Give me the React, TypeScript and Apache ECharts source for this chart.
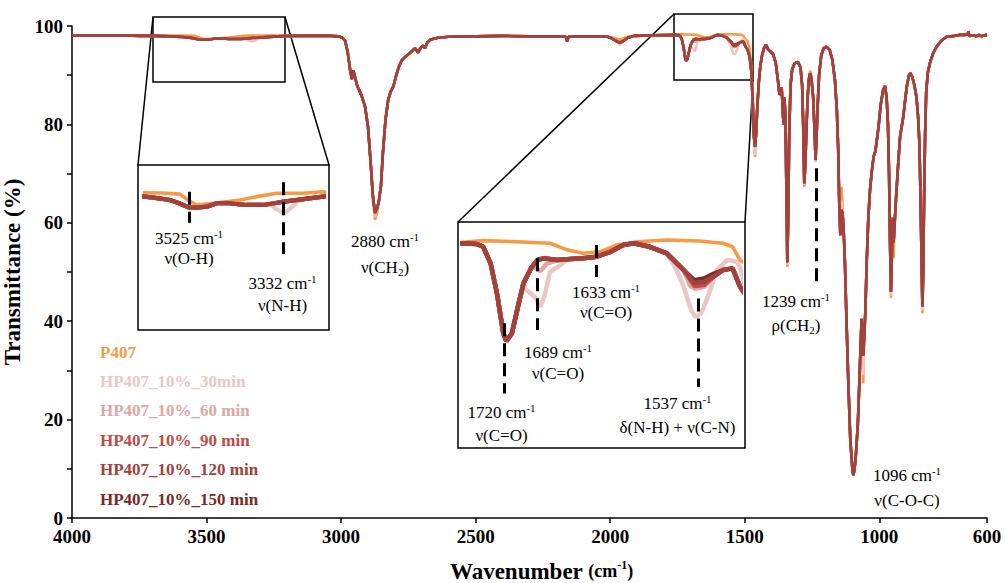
import React, { useEffect, useRef } from "react";
import * as echarts from "echarts";

type Pt = [number, number];

const FONT = "Liberation Serif";

const SERIES_NAMES = [
  "P407",
  "HP407_10%_30min",
  "HP407_10%_60 min",
  "HP407_10%_90 min",
  "HP407_10%_120 min",
  "HP407_10%_150 min",
];
const SERIES_COLORS = ["#F79A45", "#EBC6C6", "#E0A6A5", "#C24A47", "#A3413B", "#7A2A27"];
const DRAW_ORDER = [0, 1, 2, 5, 3, 4];

const X_TICKS = [4000, 3500, 3000, 2500, 2000, 1500, 1000, 600];
const Y_LABEL_STEP = 20;

// dominant curve (120 min): [wavenumber, transmittance]
const MAIN: Pt[] = [
  [4000, 98.1], [3900, 98.1], [3800, 98.1], [3750, 98.0], [3700, 98.0], [3660, 97.95], [3615, 97.84], [3590, 97.75],
  [3564, 97.64], [3545, 97.45], [3526, 97.21], [3505, 97.2], [3488, 97.25], [3468, 97.45], [3441, 97.45], [3420, 97.38],
  [3407, 97.35], [3372, 97.35], [3350, 97.45], [3331, 97.55], [3310, 97.62], [3290, 97.69], [3250, 97.84], [3220, 97.95],
  [3180, 98.0], [3100, 98.05], [3040, 98.0], [3010, 97.9], [2995, 97.6], [2985, 97.0], [2975, 94.5], [2965, 90.5],
  [2960, 89.2], [2955, 91.0], [2950, 90.0], [2940, 87.8], [2925, 86.0], [2911, 83.6], [2900, 79.5], [2890, 72.0],
  [2882, 65.5], [2874, 62.0], [2866, 63.0], [2860, 64.3], [2852, 67.5], [2845, 74.0], [2835, 81.0], [2825, 85.0],
  [2815, 86.8], [2806, 87.7], [2795, 90.0], [2785, 91.8], [2775, 93.0], [2760, 93.8], [2744, 94.5], [2725, 95.5],
  [2714, 94.6], [2704, 95.6], [2696, 96.0], [2688, 95.5], [2680, 96.6], [2670, 97.2], [2640, 97.6], [2600, 97.8],
  [2500, 97.9], [2400, 98.0], [2300, 97.9], [2200, 97.9], [2165, 97.8], [2160, 96.9], [2155, 97.8], [2100, 97.9],
  [2050, 97.9], [2010, 97.8], [1995, 97.5], [1980, 97.0], [1964, 96.6], [1950, 97.0], [1935, 97.6], [1910, 98.0],
  [1850, 98.1], [1800, 98.15], [1759, 98.19], [1746, 98.15], [1740, 98.0], [1733, 97.11], [1727, 95.5], [1721, 93.35],
  [1718, 92.94], [1713, 93.35], [1708, 94.6], [1702, 96.04], [1695, 96.84], [1689, 97.29], [1683, 97.38], [1670, 97.29],
  [1661, 97.33], [1646, 97.38], [1633, 97.47], [1620, 97.73], [1608, 98.1], [1598, 98.19], [1583, 98.0], [1567, 97.65],
  [1551, 96.75], [1541, 96.04], [1532, 96.12], [1523, 96.39], [1514, 96.75], [1505, 96.84], [1498, 95.86], [1490, 95.2],
  [1482, 93.8], [1476, 91.0], [1470, 84.0], [1466, 77.5], [1462, 75.5], [1458, 78.0], [1454, 83.0], [1448, 88.5],
  [1442, 92.0], [1436, 94.0], [1428, 95.6], [1421, 96.2], [1413, 95.2], [1405, 94.8], [1395, 94.3], [1385, 92.5],
  [1377, 89.0], [1371, 86.0], [1367, 86.5], [1363, 87.5], [1359, 83.0], [1356, 80.0], [1353, 85.5], [1349, 82.0],
  [1345, 65.0], [1342, 52.0], [1339, 60.0], [1335, 78.0], [1330, 88.0], [1324, 91.2], [1315, 92.4], [1303, 92.7],
  [1293, 91.6], [1287, 88.0], [1283, 80.0], [1279, 68.0], [1275, 72.0], [1271, 79.0], [1266, 86.0], [1261, 89.5],
  [1257, 90.4], [1252, 89.0], [1246, 85.6], [1241, 79.0], [1237, 72.8], [1233, 78.0], [1229, 84.0], [1224, 90.0],
  [1216, 94.0], [1207, 95.5], [1197, 95.8], [1185, 95.2], [1175, 93.2], [1165, 89.0], [1158, 83.0], [1153, 75.0],
  [1149, 64.0], [1145, 57.5], [1141, 62.6], [1137, 62.0], [1133, 59.0], [1128, 52.0], [1122, 40.0], [1115, 27.0],
  [1108, 16.0], [1101, 10.5], [1097, 8.7], [1093, 9.5], [1087, 13.0], [1080, 19.0], [1074, 28.0], [1069, 36.0],
  [1066, 40.5], [1063, 37.0], [1060, 33.0], [1056, 37.0], [1052, 42.0], [1047, 52.0], [1041, 61.0], [1035, 66.5],
  [1028, 70.5], [1021, 73.5], [1015, 74.5], [1010, 76.5], [1003, 79.5], [995, 84.0], [986, 87.0], [979, 87.8],
  [973, 85.5], [968, 80.0], [964, 70.0], [960, 55.0], [957, 46.0], [954, 52.0], [951, 61.0], [949, 58.0],
  [947, 56.0], [944, 59.0], [938, 65.0], [930, 72.0], [923, 77.5], [917, 79.5], [911, 81.6], [904, 85.0],
  [898, 87.7], [890, 90.0], [885, 90.4], [878, 89.7], [870, 88.0], [862, 85.5], [856, 81.5], [851, 76.0],
  [847, 65.0], [843, 52.0], [840, 43.0], [837, 50.0], [834, 64.0], [830, 78.0], [826, 86.5], [820, 90.5],
  [812, 92.5], [800, 94.5], [787, 95.8], [770, 97.0], [750, 97.8], [720, 98.0], [700, 98.2], [680, 98.2],
  [672, 98.3], [669, 98.9], [666, 98.0], [650, 98.1], [640, 97.9], [630, 98.2], [620, 97.9], [610, 98.1], [600, 98.2],
];

// segments where each other sample departs from the dominant curve
const P407_SEGMENTS: Pt[][] = [
  [[3660, 98.05], [3615, 98.07], [3580, 98.05], [3543, 97.99], [3525, 97.6], [3509, 97.35], [3476, 97.45], [3445, 97.55],
   [3420, 97.64], [3386, 97.84], [3345, 98.04], [3291, 98.04], [3250, 98.13]],
  [[2882, 64.5], [2874, 60.6], [2866, 62.0]],
  [[1995, 97.7], [1964, 97.2], [1935, 97.8]],
  [[1759, 98.24], [1740, 98.33], [1708, 98.27], [1677, 98.19], [1662, 97.86], [1646, 97.65], [1630, 97.73], [1614, 98.1],
   [1595, 98.27], [1567, 98.36], [1536, 98.31], [1514, 98.19], [1505, 98.0], [1498, 97.29], [1490, 97.0], [1482, 95.5], [1476, 92.0]],
  [[1462, 73.4]],
  [[1342, 51.0]],
  [[1279, 67.3]],
  [[1257, 90.9], [1252, 89.8]],
  [[1237, 73.3]],
  [[1141, 67.3], [1137, 64.0]],
  [[1060, 27.4]],
  [[957, 44.7]],
  [[947, 52.8]],
  [[840, 41.6]],
];
const MIN30_SEGMENTS: Pt[][] = [
  [[3360, 97.4], [3345, 97.1], [3330, 96.85], [3315, 97.2], [3300, 97.6]],
  [[2874, 61.2]],
  [[1964, 96.1]],
  [[1700, 95.7], [1695, 95.5], [1690, 95.2], [1686, 94.78], [1682, 95.4], [1677, 96.66], [1667, 97.02]],
  [[1560, 97.0], [1552, 96.0], [1548, 95.32], [1544, 94.6], [1540, 94.24], [1535, 94.4], [1532, 94.78], [1526, 95.68],
   [1520, 96.75], [1510, 97.29], [1501, 97.2], [1498, 96.9]],
  [[1462, 73.8]],
  [[1342, 51.5]],
  [[1279, 67.8]],
  [[1237, 72.3]],
  [[1141, 64.5]],
  [[1060, 29.0]],
  [[957, 45.2]],
  [[840, 42.2]],
];
const MIN60_SEGMENTS: Pt[][] = [
  [[1692, 96.9], [1686, 96.7], [1680, 97.1]],
  [[1545, 95.9], [1540, 95.75], [1532, 95.85]],
  [[2874, 61.6]],
  [[1342, 51.8]],
  [[1237, 72.5]],
];
const MIN90_SEGMENTS: Pt[][] = [[[1541, 95.9], [1532, 95.95]]];
const MIN120_SEGMENTS: Pt[][] = [];
const MIN150_SEGMENTS: Pt[][] = [[[1541, 96.2], [1532, 96.3], [1523, 96.55]]];

const ALL_SEGMENTS = [P407_SEGMENTS, MIN30_SEGMENTS, MIN60_SEGMENTS, MIN90_SEGMENTS, MIN120_SEGMENTS, MIN150_SEGMENTS];

// marker lines: [wavenumber, T from, T to]
const MAIN_MARKERS: Pt[][] = [[[1236, 71.1], [1236, 48.0]]];
const INSET1_MARKERS: Pt[][] = [[[3525, 98.13], [3525, 96.31]], [[3332, 98.68], [3332, 94.47]]];
const INSET2_MARKERS: Pt[][] = [
  [[1720, 93.89], [1720, 90.13]],
  [[1689, 97.38], [1689, 93.53]],
  [[1633, 98.09], [1633, 96.38]],
  [[1537, 95.23], [1537, 90.48]],
];

// annotations: [value text, assignment, cx, cy1, cy2]
const ANNOTATIONS: [string, string, number, number, number][] = [
  ["3525", "{n|ν(O-H)}", 189, 238, 258],
  ["3332", "{n|ν(N-H)}", 282.5, 283, 305],
  ["2880", "{n|ν(CH}{b|2}{n|)}", 385, 241, 267],
  ["1633", "{n|ν(C=O)}", 606, 292, 312],
  ["1689", "{n|ν(C=O)}", 558, 352, 373],
  ["1720", "{n|ν(C=O)}", 501.5, 412, 435],
  ["1537", "{n|δ(N-H) + ν(C-N)}", 677.5, 403, 427],
  ["1239", "{n|ρ(CH}{b|2}{n|)}", 796, 301, 325],
  ["1096", "{n|ν(C-O-C)}", 907, 475, 500],
];

function mergeSegments(base: Pt[], segs: Pt[][]): Pt[] {
  let pts = base.slice();
  for (const seg of segs) {
    const xs = seg.map((p) => p[0]);
    const hi = Math.max(...xs);
    const lo = Math.min(...xs);
    pts = pts.filter((p) => p[0] > hi || p[0] < lo).concat(seg);
  }
  return pts.sort((a, b) => b[0] - a[0]);
}

function makeRich() {
  return {
    n: { fontFamily: FONT, fontSize: 17, fill: "#000", lineHeight: 20 },
    s: { fontFamily: FONT, fontSize: 11, fill: "#000", verticalAlign: "top", lineHeight: 20 },
    b: { fontFamily: FONT, fontSize: 11, fill: "#000", verticalAlign: "bottom", lineHeight: 16 },
  };
}

function textEl(x: number, y: number, text: string) {
  return {
    type: "text",
    x,
    y,
    style: {
      text,
      rich: makeRich(),
      fill: "#000",
      fontFamily: FONT,
      fontSize: 17,
      textAlign: "center",
      textVerticalAlign: "middle",
    },
  };
}

export default function App() {
  const ref = useRef<HTMLDivElement>(null);

  useEffect(() => {
    if (!ref.current) return;
    const chart = echarts.init(ref.current, null, { renderer: "svg" });

    const seriesData = ALL_SEGMENTS.map((segs) => mergeSegments(MAIN, segs));

    const makeMark = (marks: Pt[][]) => ({
      silent: true,
      symbol: ["none", "none"],
      label: { show: false },
      lineStyle: { color: "#000", width: 3, type: [13, 7] },
      data: marks.map((m) => [{ coord: m[0] }, { coord: m[1] }]),
    });

    const series: any[] = [];
    const grids = [
      { idx: 0, width: 2.6, marks: MAIN_MARKERS },
      { idx: 1, width: 4.2, marks: INSET1_MARKERS },
      { idx: 2, width: 4.5, marks: INSET2_MARKERS },
    ];
    grids.forEach((g) => {
      DRAW_ORDER.forEach((si, k) => {
        const s: any = {
          type: "line",
          name: SERIES_NAMES[si],
          xAxisIndex: g.idx,
          yAxisIndex: g.idx,
          data: seriesData[si],
          showSymbol: false,
          symbol: "none",
          clip: true,
          lineStyle: { color: SERIES_COLORS[si], width: si === 0 && g.idx > 0 ? 3.6 : g.width },
          itemStyle: { color: SERIES_COLORS[si] },
        };
        if (k === DRAW_ORDER.length - 1) s.markLine = makeMark(g.marks);
        series.push(s);
      });
    });

    const rect = (x: number, y: number, w: number, h: number) => ({
      type: "rect",
      silent: true,
      shape: { x, y, width: w, height: h },
      style: { fill: "none", stroke: "#000", lineWidth: 1.5 },
    });
    const seg = (x1: number, y1: number, x2: number, y2: number) => ({
      type: "line",
      silent: true,
      shape: { x1, y1, x2, y2 },
      style: { stroke: "#000", lineWidth: 1.5 },
    });

    const graphic: any[] = [
      rect(153, 17, 132, 65),
      rect(674, 14, 79, 66),
      rect(138, 165, 191, 165),
      rect(458, 222, 287, 226),
      seg(153, 17, 138, 165),
      seg(285, 17, 329, 165),
      seg(674, 14, 458, 222),
      seg(753, 80, 745, 222),
    ];
    ANNOTATIONS.forEach(([num, assign, cx, cy1, cy2]) => {
      graphic.push(textEl(cx, cy1, `{n|${num} cm}{s|-1}`));
      graphic.push(textEl(cx, cy2, assign));
    });

    const axisLine = { show: true, lineStyle: { color: "#000", width: 1.5 } };
    const axisTickStyle = { color: "#000", width: 1.5 };
    const insetGrid = { outerBoundsMode: "none", containLabel: false };

    chart.setOption({
      animation: false,
      grid: [
        { left: 72, right: 18, top: 26, bottom: 65, ...insetGrid },
        { left: 145, top: 165, width: 178, height: 165, ...insetGrid },
        { left: 463, top: 222, width: 277, height: 226, ...insetGrid },
      ],
      legend: {
        orient: "vertical",
        left: 82,
        top: 337,
        itemWidth: 0,
        itemHeight: 20,
        itemGap: 9.4,
        selectedMode: false,
        itemStyle: { opacity: 0 },
        lineStyle: { opacity: 0 },
        textStyle: { fontFamily: FONT, fontWeight: "bold", fontSize: 17, lineHeight: 20 },
        data: SERIES_NAMES.map((n, i) => ({ name: n, textStyle: { color: SERIES_COLORS[i] } })),
      },
      xAxis: [
        {
          type: "value",
          gridIndex: 0,
          min: 600,
          max: 4000,
          inverse: true,
          name: "{t|Wavenumber }{u|(cm}{s|-1}{u|)}",
          nameLocation: "middle",
          nameGap: 41,
          nameTextStyle: {
            padding: [0, 0, 0, 24],
            rich: {
              t: { fontFamily: FONT, fontSize: 23, fontWeight: "bold", color: "#000", lineHeight: 24 },
              u: { fontFamily: FONT, fontSize: 18, fontWeight: "bold", color: "#000", lineHeight: 24 },
              s: { fontFamily: FONT, fontSize: 12, fontWeight: "bold", color: "#000", verticalAlign: "top", lineHeight: 24 },
            },
          },
          axisLine,
          axisTick: { show: true, customValues: X_TICKS, length: 5, lineStyle: axisTickStyle },
          axisLabel: {
            customValues: X_TICKS,
            margin: 9,
            color: "#000",
            fontFamily: FONT,
            fontWeight: "bold",
            fontSize: 19,
            formatter: (v: number) => String(v),
          },
          splitLine: { show: false },
        },
        { type: "value", gridIndex: 1, min: 3250, max: 3615, inverse: true, show: false },
        { type: "value", gridIndex: 2, min: 1498, max: 1759, inverse: true, show: false },
      ],
      yAxis: [
        {
          type: "value",
          gridIndex: 0,
          min: 0,
          max: 100,
          interval: 10,
          name: "Transmittance (%)",
          nameLocation: "middle",
          nameRotate: 90,
          nameGap: 36,
          nameTextStyle: { fontFamily: FONT, fontSize: 23, fontWeight: "bold", color: "#000" },
          axisLine,
          axisTick: { show: true, length: 5, lineStyle: axisTickStyle },
          axisLabel: {
            margin: 9,
            color: "#000",
            fontFamily: FONT,
            fontWeight: "bold",
            fontSize: 19,
            formatter: (v: number) => (v % Y_LABEL_STEP === 0 ? String(v) : ""),
          },
          splitLine: { show: false },
        },
        { type: "value", gridIndex: 1, min: 90, max: 99.7, show: false },
        { type: "value", gridIndex: 2, min: 87.2, max: 99.33, show: false },
      ],
      series,
      graphic,
    });

    return () => chart.dispose();
  }, []);

  return <div ref={ref} style={{ position: "absolute", left: 0, top: 0, width: 1005, height: 583 }} />;
}
